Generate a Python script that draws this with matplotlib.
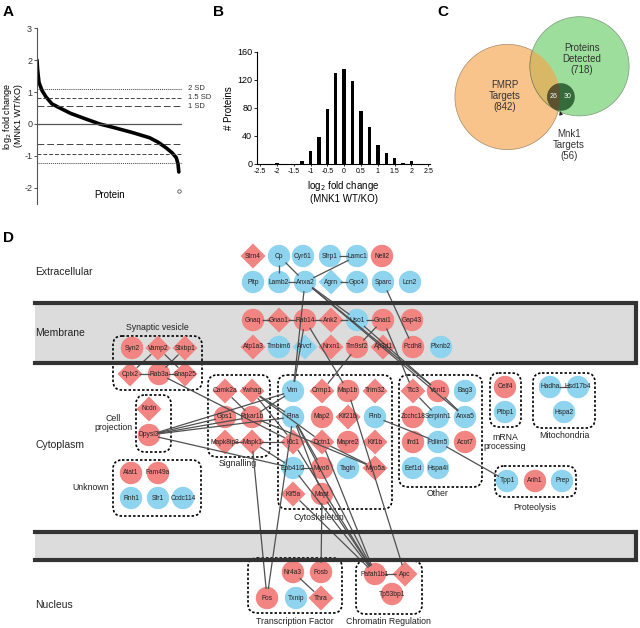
import math
import matplotlib
matplotlib.use("Agg")
import matplotlib.pyplot as plt
from matplotlib.patches import Circle, RegularPolygon, FancyBboxPatch

plt.rcParams['font.family'] = ['Liberation Sans', 'DejaVu Sans']
plt.rcParams['axes.unicode_minus'] = False

# --- Panel A: ranked fold change curve ---
protein_rank = [0, 3, 10, 25, 45, 75, 115, 170, 240, 316, 380, 440, 482, 567, 610, 651, 680, 701, 710, 714]
log2_fc = [2.0, 1.7, 1.3, 1.05, 0.85, 0.63, 0.5, 0.33, 0.17, 0.0, -0.1, -0.2, -0.27, -0.43,
           -0.57, -0.75, -0.9, -1.05, -1.25, -1.5]
outlier_rank = [716]
outlier_fc = [-2.1]
sd_upper = [1.1, 0.82, 0.55]
sd_lower = [-1.23, -0.93, -0.64]
sd_labels = ['2 SD', '1.5 SD', '1 SD']

# --- Panel B: histogram ---
bin_centers = [-2.0, -1.25, -1.0, -0.75, -0.5, -0.25, 0.0, 0.25, 0.5, 0.75, 1.0, 1.25, 1.5, 1.75, 2.0, 2.5]
bin_counts = [1, 4, 18, 38, 78, 130, 136, 118, 75, 53, 27, 16, 9, 2, 4, 0.5]

# --- Panel C: venn counts ---
n_fmrp = 842
n_detected = 718
n_mnk1_fmrp = 26
n_mnk1_other = 30

# --- Panel D: network ---
node_names = ['Strn4', 'Cp', 'Cyr61', 'Sfrp1', 'Lamc1', 'Nell2',
              'Pltp', 'Lamb2', 'Anxa2', 'Agrn', 'Gpc4', 'Sparc', 'Lcn2',
              'Gnaq', 'Gnao1', 'Rab14', 'Ank2', 'Uso1', 'Gnai1', 'Gap43',
              'Atp1a3', 'Tmbim6', 'Arvcf', 'Nrxn1', 'Tm9sf2', 'Ap3d1', 'Pcdh8', 'Plxnb2',
              'Syn2', 'Vamp2', 'Stxbp1', 'Cplx2', 'Rab3a', 'Snap25',
              'Ncdn', 'Dpysl3',
              'Camk2a', 'Ywhag', 'Gps1', 'Prkar1b', 'Mapk8ip3', 'Mapk1',
              'Vim', 'Crmp1', 'Map1b', 'Trim32', 'Flna', 'Map2', 'Kif21b', 'Flnb',
              'Klc1', 'Dctn1', 'Mapre2', 'Kif1b', 'Epb41l2', 'Myo6', 'Tagln', 'Myo5a',
              'Kif5a', 'Mapt',
              'Ttc3', 'Vsnl1', 'Bag3', 'Zcchc18', 'Serpinh1', 'Anxa5', 'Ifrd1', 'Pdlim5',
              'Acot7', 'Eef1d', 'Hspa4l',
              'Celf4', 'Ptbp1', 'Hadha', 'Hsd17b4', 'Hspa2', 'Tpp1', 'Arih1', 'Prep',
              'Atat1', 'Fam49a', 'Rnh1', 'Sfr1', 'Ccdc114',
              'Nr4a3', 'Fosb', 'Fos', 'Txnip', 'Thra', 'Pafah1b1', 'Apc', 'Tp53bp1']
# 'R' = FMRP target (red), 'B' = other (blue)
node_class = ['R', 'B', 'B', 'B', 'B', 'R',
              'B', 'B', 'B', 'B', 'B', 'B', 'B',
              'R', 'R', 'R', 'R', 'B', 'R', 'R',
              'R', 'B', 'B', 'R', 'R', 'R', 'R', 'B',
              'R', 'R', 'R', 'R', 'R', 'R',
              'R', 'R',
              'R', 'R', 'R', 'R', 'R', 'R',
              'B', 'R', 'R', 'R', 'B', 'R', 'R', 'B',
              'R', 'R', 'R', 'R', 'B', 'R', 'B', 'R',
              'R', 'R',
              'R', 'R', 'B', 'R', 'B', 'B', 'R', 'B',
              'R', 'B', 'B',
              'R', 'B', 'B', 'B', 'B', 'B', 'R', 'B',
              'R', 'R', 'B', 'B', 'B',
              'R', 'R', 'R', 'B', 'R', 'R', 'R', 'R']
node_diamond = ['Strn4', 'Agrn', 'Gnao1', 'Ank2', 'Atp1a3', 'Arvcf', 'Nrxn1', 'Ap3d1',
                'Vamp2', 'Stxbp1', 'Cplx2', 'Snap25', 'Ncdn', 'Camk2a', 'Ywhag', 'Mapk8ip3',
                'Mapk1', 'Crmp1', 'Trim32', 'Kif21b', 'Klc1', 'Dctn1', 'Kif1b', 'Myo5a',
                'Kif5a', 'Ttc3', 'Thra', 'Apc']
edges = [('Cp', 'Lamb2'), ('Lamb2', 'Anxa2'), ('Cp', 'Anxa2'), ('Sfrp1', 'Lamc1'),
         ('Anxa2', 'Lamc1'), ('Agrn', 'Gpc4'), ('Anxa2', 'Vim'), ('Anxa2', 'Uso1'),
         ('Anxa2', 'Vsnl1'), ('Anxa2', 'Anxa5'), ('Sparc', 'Pcdh8'),
         ('Gnaq', 'Gnao1'), ('Gnao1', 'Rab14'), ('Rab14', 'Ank2'), ('Ank2', 'Uso1'),
         ('Uso1', 'Gnai1'), ('Gnai1', 'Tm9sf2'), ('Rab14', 'Vim'), ('Rab14', 'Map1b'),
         ('Tm9sf2', 'Crmp1'), ('Uso1', 'Vsnl1'), ('Gnai1', 'Ttc3'),
         ('Vamp2', 'Cplx2'), ('Vamp2', 'Snap25'), ('Stxbp1', 'Rab3a'), ('Cplx2', 'Rab3a'),
         ('Rab3a', 'Snap25'), ('Rab3a', 'Klc1'),
         ('Dpysl3', 'Gps1'), ('Dpysl3', 'Prkar1b'), ('Dpysl3', 'Vim'), ('Dpysl3', 'Flna'),
         ('Dpysl3', 'Epb41l2'),
         ('Camk2a', 'Prkar1b'), ('Ywhag', 'Flna'), ('Ywhag', 'Klc1'), ('Ywhag', 'Dctn1'),
         ('Prkar1b', 'Vim'), ('Prkar1b', 'Myo5a'), ('Mapk8ip3', 'Mapk1'), ('Mapk1', 'Klc1'),
         ('Mapk1', 'Epb41l2'), ('Mapk1', 'Fos'), ('Flna', 'Fos'),
         ('Flna', 'Myo6'), ('Flna', 'Mapt'), ('Dctn1', 'Myo5a'), ('Epb41l2', 'Myo6'),
         ('Mapt', 'Fosb'), ('Map1b', 'Apc'),
         ('Kif5a', 'Pafah1b1'), ('Epb41l2', 'Pafah1b1'), ('Mapt', 'Pafah1b1'),
         ('Klc1', 'Pafah1b1'), ('Flna', 'Pafah1b1'), ('Dctn1', 'Pafah1b1'),
         ('Pafah1b1', 'Apc'), ('Nr4a3', 'Thra'),
         ('Flnb', 'Pdlim5'), ('Pdlim5', 'Tpp1'), ('Ttc3', 'Serpinh1'), ('Vsnl1', 'Anxa5'),
         ('Hadha', 'Hsd17b4')]

# layout (pixel positions of the reference picture)
NODE_XY = {
    'Strn4': (253, 256), 'Cp': (279, 256), 'Cyr61': (303, 256), 'Sfrp1': (330, 256),
    'Lamc1': (357, 256), 'Nell2': (382, 256),
    'Pltp': (253, 282), 'Lamb2': (279, 282), 'Anxa2': (305, 282), 'Agrn': (331, 282),
    'Gpc4': (357, 282), 'Sparc': (383, 282), 'Lcn2': (410, 282),
    'Gnaq': (253, 320), 'Gnao1': (279, 320), 'Rab14': (305, 320), 'Ank2': (331, 320),
    'Uso1': (357, 320), 'Gnai1': (383, 320), 'Gap43': (412, 320),
    'Atp1a3': (253, 347), 'Tmbim6': (279, 347), 'Arvcf': (305, 347), 'Nrxn1': (331, 347),
    'Tm9sf2': (357, 347), 'Ap3d1': (383, 347), 'Pcdh8': (413, 347), 'Plxnb2': (441, 347),
    'Syn2': (132, 348), 'Vamp2': (158, 348), 'Stxbp1': (185, 348),
    'Cplx2': (130, 374), 'Rab3a': (159, 374), 'Snap25': (185, 374),
    'Ncdn': (149, 409), 'Dpysl3': (149, 435),
    'Camk2a': (225, 391), 'Ywhag': (252, 391), 'Gps1': (225, 417), 'Prkar1b': (252, 417),
    'Mapk8ip3': (225, 442), 'Mapk1': (252, 442),
    'Vim': (293, 391), 'Crmp1': (322, 391), 'Map1b': (348, 391), 'Trim32': (375, 391),
    'Flna': (293, 417), 'Map2': (322, 417), 'Kif21b': (348, 417), 'Flnb': (375, 417),
    'Klc1': (293, 442), 'Dctn1': (322, 442), 'Mapre2': (348, 442), 'Kif1b': (375, 442),
    'Epb41l2': (293, 468), 'Myo6': (322, 468), 'Tagln': (348, 468), 'Myo5a': (375, 468),
    'Kif5a': (293, 494), 'Mapt': (322, 494),
    'Ttc3': (413, 391), 'Vsnl1': (438, 391), 'Bag3': (465, 391),
    'Zcchc18': (413, 417), 'Serpinh1': (438, 417), 'Anxa5': (465, 417),
    'Ifrd1': (413, 442), 'Pdlim5': (438, 442), 'Acot7': (465, 442),
    'Eef1d': (413, 468), 'Hspa4l': (438, 468),
    'Celf4': (505, 387), 'Ptbp1': (505, 412),
    'Hadha': (550, 387), 'Hsd17b4': (578, 387), 'Hspa2': (564, 412),
    'Tpp1': (507, 481), 'Arih1': (535, 481), 'Prep': (562, 481),
    'Atat1': (131, 473), 'Fam49a': (158, 473), 'Rnh1': (131, 498), 'Sfr1': (158, 498),
    'Ccdc114': (183, 498),
    'Nr4a3': (293, 572), 'Fosb': (321, 572), 'Fos': (267, 598), 'Txnip': (296, 598),
    'Thra': (321, 598), 'Pafah1b1': (375, 574), 'Apc': (405, 574), 'Tp53bp1': (392, 594),
}

# group boxes: label, (x0, y0, x1, y1), label position
GROUPS = [
    ('Synaptic vesicle', (113, 336, 202, 390), (157, 328)),
    ('Cell\nprojection', (136, 395, 171, 452), (113, 423)),
    ('Signalling', (208, 375, 270, 457), (238, 464)),
    ('Cytoskeleton', (278, 375, 392, 509), (319, 517)),
    ('Other', (399, 375, 482, 487), (438, 494)),
    ('mRNA\nprocessing', (490, 373, 521, 427), (505, 442)),
    ('Mitochondria', (533, 373, 595, 428), (564, 436)),
    ('Proteolysis', (495, 466, 576, 497), (535, 507)),
    ('Unknown', (113, 460, 201, 516), (91, 488)),
    ('Transcription Factor', (248, 558, 342, 613), (295, 622)),
    ('Chromatin Regulation', (356, 561, 422, 614), (388, 622)),
]

RED = '#f28482'
BLUE = '#8fd4ee'
EDGE = '#505050'
NODE_R = 11.2


def main():
    fig = plt.figure(figsize=(6.4, 6.28), dpi=100)

    # full-figure axes in pixel coordinates for C and D
    axd = fig.add_axes([0, 0, 1, 1])
    axd.set_xlim(0, 640)
    axd.set_ylim(628, 0)
    axd.axis('off')

    # panel letters
    for letter, x, y in [('A', 3, 12), ('B', 213, 12), ('C', 437, 12), ('D', 3, 238)]:
        axd.text(x, y, letter, fontsize=11, fontweight='bold', va='center', ha='left')

    # --- Panel A ---
    axa = fig.add_axes([37 / 640, 1 - 204 / 628, 145 / 640, 176 / 628])
    axa.plot(protein_rank, log2_fc, color='black', lw=2.6, solid_capstyle='round')
    axa.plot(outlier_rank, outlier_fc, 'o', mfc='white', mec='#555555', ms=2.5, mew=0.6)
    axa.axhline(0, color='#555555', lw=0.9)
    styles = [(0, (1, 1)), (0, (4, 2)), (0, (7, 3))]
    for up, lo, ls, lab in zip(sd_upper, sd_lower, styles, sd_labels):
        axa.axhline(up, color='#444444', lw=0.7, linestyle=ls)
        axa.axhline(lo, color='#444444', lw=0.7, linestyle=ls)
        axa.text(1.04, up, lab, transform=axa.get_yaxis_transform(), fontsize=5.5,
                 va='center', ha='left', color='#333333', clip_on=False)
    axa.set_xlim(0, 730)
    axa.set_ylim(-2.5, 3.0)
    axa.set_yticks([-2, -1, 0, 1, 2, 3])
    axa.set_xticks([])
    for s in ['top', 'right', 'bottom']:
        axa.spines[s].set_visible(False)
    axa.spines['left'].set_color('#555555')
    axa.tick_params(axis='y', labelsize=6.5, length=2, width=0.6, pad=1.5, colors='#333333')
    axa.set_ylabel('log$_2$ fold change\n(MNK1 WT/KO)', fontsize=6.5, labelpad=1, linespacing=1.0)
    axa.text(0.5, 0.02, 'Protein', transform=axa.transAxes, fontsize=7, ha='center', va='bottom')

    # --- Panel B ---
    axb = fig.add_axes([257 / 640, 1 - 164 / 628, 173 / 640, 112.3 / 628])
    axb.bar(bin_centers, bin_counts, width=0.1, color='black')
    axb.set_xlim(-2.59, 2.55)
    axb.set_ylim(0, 160)
    axb.set_yticks([0, 40, 80, 120, 160])
    ticks = [-2.5, -2, -1.5, -1, -0.5, 0, 0.5, 1, 1.5, 2, 2.5]
    axb.set_xticks(ticks)
    axb.set_xticklabels(['%g' % t for t in ticks])
    for s in ['top', 'right']:
        axb.spines[s].set_visible(False)
    axb.tick_params(axis='y', labelsize=6.5, length=2, width=0.6, pad=1.5)
    axb.tick_params(axis='x', labelsize=5, length=1.5, width=0.6, pad=1.5)
    axb.set_ylabel('# Proteins', fontsize=7, labelpad=2)
    axb.set_xlabel('log$_2$ fold change\n(MNK1 WT/KO)', fontsize=7, labelpad=3, linespacing=1.1)

    # --- Panel C: venn ---
    c_fmrp = Circle((507.5, 97), 52.6, facecolor='#f9c48c', edgecolor='#a08a6a', lw=0.5)
    c_det = Circle((579.5, 66.3), 49.6, facecolor='#9ede9c', edgecolor='#7c9a7a', lw=0.5)
    axd.add_patch(c_fmrp)
    axd.add_patch(c_det)
    lens = Circle((579.5, 66.3), 49.6, facecolor='#d8b766', edgecolor='#8a7a55', lw=0.5)
    axd.add_patch(lens)
    lens.set_clip_path(c_fmrp)
    c_mnk = Circle((561, 97), 13.8, facecolor='#356b3b', edgecolor='none')
    axd.add_patch(c_mnk)
    c_mnk2 = Circle((561, 97), 13.8, facecolor='#5c5230', edgecolor='none')
    axd.add_patch(c_mnk2)
    c_mnk2.set_clip_path(c_fmrp)
    axd.text(505, 96, 'FMRP\nTargets\n(%d)' % n_fmrp, fontsize=7, ha='center', va='center',
             color='#333333', linespacing=1.15)
    axd.text(582, 59, 'Proteins\nDetected\n(%d)' % n_detected, fontsize=7, ha='center',
             va='center', color='#333333', linespacing=1.15)
    axd.text(553.5, 97, str(n_mnk1_fmrp), fontsize=5, ha='center', va='center', color='white')
    axd.text(567.5, 97, str(n_mnk1_other), fontsize=5, ha='center', va='center', color='white')
    axd.annotate('Mnk1\nTargets\n(%d)' % (n_mnk1_fmrp + n_mnk1_other), xy=(560, 111),
                 xytext=(569, 145), fontsize=7, ha='center', va='center', color='#333333',
                 linespacing=1.15,
                 arrowprops=dict(arrowstyle='-|>', color='#222222', lw=0.7,
                                 mutation_scale=5, shrinkA=9, shrinkB=0))

    # --- Panel D: compartments ---
    for y0, y1 in [(302.5, 362.5), (532, 559.5)]:
        axd.fill_between([35, 636], y0, y1, color='#dcdcdc', lw=0, zorder=0)
        axd.plot([35, 636, 636, 35], [y0, y0, y1, y1], color='#333333', lw=3,
                 solid_joinstyle='miter', zorder=4)
    for lab, y in [('Extracellular', 272), ('Membrane', 333), ('Cytoplasm', 445), ('Nucleus', 605)]:
        axd.text(35, y, lab, fontsize=7.5, va='center', ha='left', color='#222222')

    for lab, (x0, y0, x1, y1), (lx, ly) in GROUPS:
        box = FancyBboxPatch((x0, y0), x1 - x0, y1 - y0,
                             boxstyle='round,pad=0,rounding_size=9',
                             facecolor='none', edgecolor='black', lw=1.2,
                             linestyle=(0, (1.5, 1.2)), zorder=1)
        axd.add_patch(box)
        axd.text(lx, ly, lab, fontsize=6.3, ha='center', va='center', color='#222222',
                 linespacing=1.05)

    # nodes
    for name, cls in zip(node_names, node_class):
        x, y = NODE_XY[name]
        col = RED if cls == 'R' else BLUE
        if name in node_diamond:
            p = RegularPolygon((x, y), numVertices=4, radius=12.5, orientation=0,
                               facecolor=col, edgecolor='none', zorder=2)
        else:
            p = Circle((x, y), NODE_R, facecolor=col, edgecolor='none', zorder=2)
        axd.add_patch(p)

    # edges, trimmed at the node outlines
    for a, b in edges:
        xa, ya = NODE_XY[a]
        xb, yb = NODE_XY[b]
        d = math.hypot(xb - xa, yb - ya)
        ux, uy = (xb - xa) / d, (yb - ya) / d
        trim = NODE_R - 2
        axd.plot([xa + ux * trim, xb - ux * trim], [ya + uy * trim, yb - uy * trim],
                 color=EDGE, lw=0.9, zorder=3, solid_capstyle='butt')

    for name in node_names:
        x, y = NODE_XY[name]
        axd.text(x, y, name, fontsize=4.8, ha='center', va='center', color='#222222', zorder=5)

    fig.savefig('out.png', dpi=100)
    plt.close(fig)


if __name__ == '__main__':
    main()
